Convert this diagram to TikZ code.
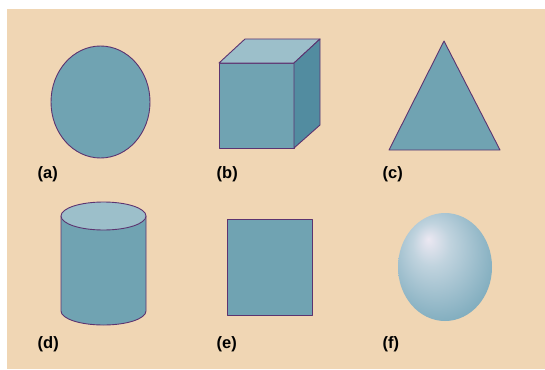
\documentclass[tikz,border=0pt]{standalone}
\usepackage{fontspec}
\setmainfont{Liberation Sans}
\definecolor{sand}{RGB}{240,214,180}
\definecolor{faceblue}{RGB}{112,163,178}
\definecolor{toplight}{RGB}{156,191,202}
\definecolor{sidedark}{RGB}{82,140,160}
\definecolor{edgeplum}{RGB}{92,52,112}
\definecolor{glowhi}{RGB}{236,232,242}
\definecolor{glowmid}{RGB}{192,211,222}
\definecolor{glowlow}{RGB}{132,175,192}
\definecolor{glowrim}{RGB}{84,140,160}
\pgfdeclareradialshading{spherelight}{\pgfpoint{-9bp}{13bp}}{%
  color(0bp)=(glowhi); color(10bp)=(glowmid); color(30bp)=(glowlow);
  color(47bp)=(glowrim); color(50bp)=(glowrim)}

\begin{document}
\begin{tikzpicture}[x=1pt,y=-1pt,
    face/.style={fill=faceblue,draw=edgeplum,line width=0.9pt,line join=round},
    tag/.style={anchor=west,font=\fontsize{16.5}{19}\selectfont\bfseries,inner sep=0pt}]
        \useasboundingbox (0,0) rectangle (545,369);
        \fill[sand] (7,9) rectangle (545,369);
        % top row
        \draw[face] (100.5,102) ellipse [x radius=49.5,y radius=56];
        \draw[face] (219,63) rectangle (294,148);
        \draw[face,fill=toplight] (219,63) -- (245,39) -- (320,39) -- (294,63) -- cycle;
        \draw[face,fill=sidedark] (294,63) -- (320,39) -- (320,125) -- (294,148) -- cycle;
        \draw[face] (444,41) -- (500,150) -- (389,150) -- cycle;
        \node[tag] (tag-a) at (37.5,174) {(a)};
        \node[tag] (tag-b) at (216.5,174) {(b)};
        \node[tag] (tag-c) at (382.5,174) {(c)};
        % bottom row
        \draw[face] (61,216) -- (61,311) arc [start angle=180,end angle=0,x radius=42.5,y radius=14]
          -- (146,216) -- cycle;
        \draw[face,fill=toplight] (103.5,216) ellipse [x radius=42.5,y radius=14];
        \draw[face] (227,219) rectangle (312,315);
        \shade[shading=spherelight] (445,267) ellipse [x radius=47,y radius=54];
        \node[tag] (tag-d) at (37.5,344) {(d)};
        \node[tag] (tag-e) at (216.5,344) {(e)};
        \node[tag] (tag-f) at (382.5,344) {(f)};
      \end{tikzpicture}
\end{document}
